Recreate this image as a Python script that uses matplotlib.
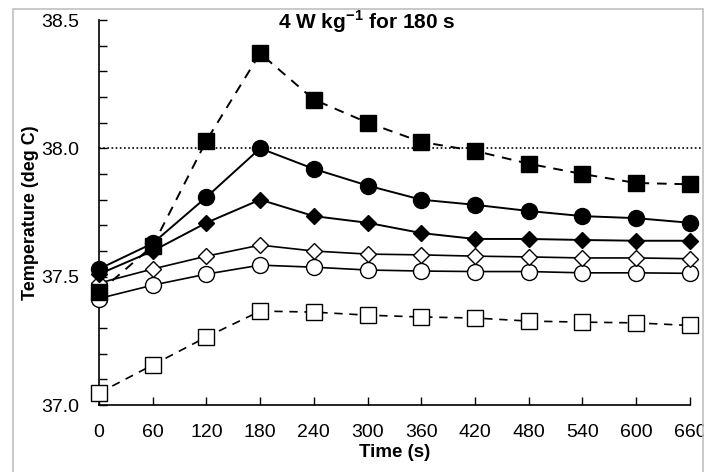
import matplotlib
matplotlib.use('Agg')
import matplotlib.pyplot as plt
import matplotlib.patches as mpatches
from matplotlib.ticker import MultipleLocator, FormatStrFormatter

plt.rcParams['font.family'] = ['Liberation Sans', 'DejaVu Sans']
plt.rcParams['mathtext.fontset'] = 'custom'
plt.rcParams['mathtext.bf'] = 'Liberation Sans:bold'
plt.rcParams['mathtext.rm'] = 'Liberation Sans'

# Time points (s)
time = [0, 60, 120, 180, 240, 300, 360, 420, 480, 540, 600, 660]

# Temperatures (deg C) for each curve
filled_squares = [37.44, 37.62, 38.03, 38.37, 38.19, 38.10, 38.025, 37.99, 37.94, 37.90, 37.865, 37.86]
filled_circles = [37.53, 37.63, 37.81, 38.00, 37.92, 37.855, 37.80, 37.78, 37.756, 37.736, 37.728, 37.71]
filled_diamonds = [37.51, 37.60, 37.71, 37.80, 37.736, 37.71, 37.67, 37.647, 37.647, 37.643, 37.64, 37.64]
open_diamonds = [37.475, 37.53, 37.58, 37.623, 37.60, 37.588, 37.585, 37.58, 37.577, 37.573, 37.573, 37.57]
open_circles = [37.415, 37.467, 37.51, 37.545, 37.537, 37.526, 37.522, 37.52, 37.52, 37.515, 37.515, 37.513]
open_squares = [37.047, 37.156, 37.265, 37.366, 37.362, 37.35, 37.343, 37.339, 37.327, 37.323, 37.32, 37.31]

threshold = 38.0

fig = plt.figure(figsize=(7.04, 4.72), dpi=100)
ax = fig.add_axes([0.1406, 0.1419, 0.8394, 0.8157])

# grey outer frame
fig.patches.append(mpatches.Rectangle((0.018, -0.01), 0.98, 0.99, transform=fig.transFigure,
                                      fill=False, edgecolor='#c0c0c0', linewidth=1.2))

ax.plot([0, 673], [threshold, threshold], color='black', linestyle=(0, (1, 1.5)),
        linewidth=1.2, clip_on=False, zorder=1)

ax.plot(time, open_squares, color='black', linestyle=(0, (5, 4)), linewidth=1.2,
        marker='s', markersize=11, markerfacecolor='white', markeredgecolor='black',
        markeredgewidth=1.0, clip_on=False, zorder=3)
ax.plot(time, open_circles, color='black', linewidth=1.2,
        marker='o', markersize=11.5, markerfacecolor='white', markeredgecolor='black',
        markeredgewidth=1.0, clip_on=False, zorder=3)
ax.plot(time, open_diamonds, color='black', linewidth=1.2,
        marker='D', markersize=8, markerfacecolor='white', markeredgecolor='black',
        markeredgewidth=1.0, clip_on=False, zorder=3)
ax.plot(time, filled_diamonds, color='black', linewidth=1.4,
        marker='D', markersize=8, markerfacecolor='black', markeredgecolor='black',
        clip_on=False, zorder=4)
ax.plot(time, filled_circles, color='black', linewidth=1.4,
        marker='o', markersize=11.5, markerfacecolor='black', markeredgecolor='black',
        clip_on=False, zorder=4)
ax.plot(time, filled_squares, color='black', linestyle=(0, (5, 4)), linewidth=1.4,
        marker='s', markersize=11, markerfacecolor='black', markeredgecolor='black',
        clip_on=False, zorder=5)

ax.set_xlim(0, 660)
ax.set_ylim(37.0, 38.5)
ax.set_xticks(time)
ax.set_yticks([37.0, 37.5, 38.0, 38.5])
ax.yaxis.set_major_formatter(FormatStrFormatter('%.1f'))
ax.yaxis.set_minor_locator(MultipleLocator(0.1))

for s in ['top', 'right']:
    ax.spines[s].set_visible(False)
for s in ['left', 'bottom']:
    ax.spines[s].set_linewidth(1.2)

ax.tick_params(axis='both', which='both', direction='in', width=1.0, color='black')
ax.tick_params(axis='x', which='major', length=6, pad=14, labelsize=14)
ax.tick_params(axis='y', which='major', length=6, pad=14, labelsize=14)
ax.tick_params(axis='y', which='minor', length=6)

ax.set_xlabel('Time (s)', fontsize=13.5, fontweight='bold', labelpad=2)
ax.set_ylabel('Temperature (deg C)', fontsize=13, fontweight='bold', labelpad=2)

ax.text(0.453, 0.995, r'4 W kg$^{\mathbf{-1}}$ for 180 s', transform=ax.transAxes,
        ha='center', va='center', fontsize=15, fontweight='bold')

fig.savefig('out.png', dpi=100)
